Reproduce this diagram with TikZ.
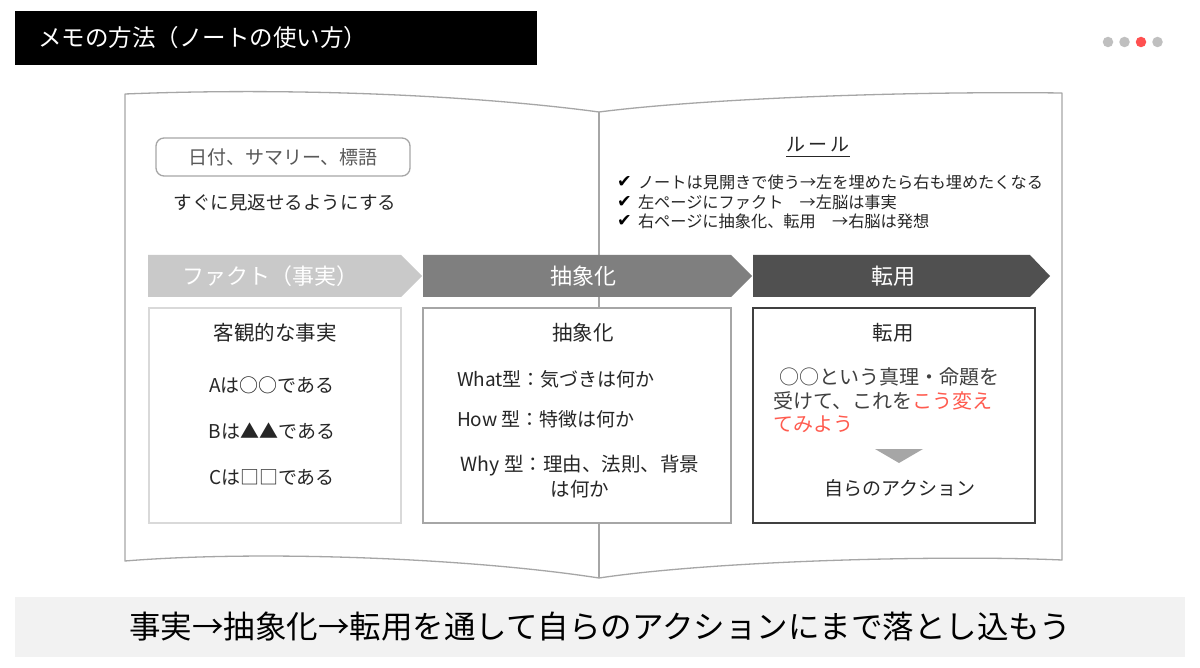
\documentclass[tikz,border=0pt]{standalone}
\usepackage{fontspec}
\setmainfont{Noto Sans CJK JP}
\newfontfamily\dejavu{DejaVu Sans}
\definecolor{linegray}{HTML}{A6A6A6}
\definecolor{chevA}{HTML}{C9C9C9}
\definecolor{chevB}{HTML}{7F7F7F}
\definecolor{chevC}{HTML}{505050}
\definecolor{dotgray}{HTML}{BFBFBF}
\definecolor{dotred}{HTML}{FF5050}
\definecolor{darktext}{HTML}{262626}
\definecolor{midtext}{HTML}{595959}
\definecolor{paratext}{HTML}{404040}
\definecolor{accent}{HTML}{FF5B4F}
\definecolor{barfill}{HTML}{F2F2F2}
\newcommand\fsz[2]{\fontsize{#1}{#2}\selectfont}
\tikzset{
  booklines/.style={draw=linegray, line width=1.3pt},
  chevtext/.style={text=white, font=\fsz{22}{26}},
  boxtitle/.style={text=darktext, font=\fsz{20.5}{25}},
  boxline/.style={text=darktext, font=\fsz{19}{23}},
  checkline/.style={anchor=west, text=darktext, font=\fsz{16.2}{19}},
  checkmark/.style={anchor=west, text=black, font=\dejavu\fsz{17.5}{20}},
  pagedot/.style={circle, minimum size=10.5pt, fill=#1},
}
\begin{document}
\begin{tikzpicture}[x=1pt,y=-1pt, every node/.style={inner sep=0pt, outer sep=0pt}]
\useasboundingbox (0,0) rectangle (1200,668);
\fill[white] (0,0) rectangle (1200,668);

% title bar
\fill[black] (15,11) rectangle (537,65);
\node[anchor=west, text=white, font=\fsz{23.5}{28}] (title) at (38,38) {メモの方法（ノートの使い方）};

% page dots
\node[pagedot=dotgray] (d1) at (1108,42) {};
\node[pagedot=dotgray] (d2) at (1124.5,42) {};
\node[pagedot=dotred] (d3) at (1141,42) {};
\node[pagedot=dotgray] (d4) at (1157.5,42) {};

% open book outline
\draw[booklines, line join=round]
  (125,94) .. controls (300,87) and (480,96) .. (599,112)
  .. controls (700,99) and (900,91) .. (1062,93)
  -- (1062,560)
  .. controls (950,555) and (720,560) .. (599,578)
  .. controls (470,558) and (260,550) .. (125,561)
  -- cycle;
\draw[booklines] (599,112) -- (599,578);

% left page top
\draw[draw=linegray, line width=1.3pt, rounded corners=8pt, fill=white] (156,138) rectangle (410,176);
\node[text=midtext, font=\fsz{19}{23}] (tags) at (283,157) {日付、サマリー、標語};
\node[text=darktext, font=\fsz{18.5}{22}] (lookback) at (285,203) {すぐに見返せるようにする};

% rules
\node[text=darktext, font=\fsz{19}{23}] (rule) at (818,145) {ル\,ー\,ル};
\draw[darktext, line width=1pt] ([yshift=-4pt]rule.south west) -- ([yshift=-4pt]rule.south east);
\node[checkmark] (c1) at (617,182) {✔};
\node[checkline] (r1) at (638,182) {ノートは見開きで使う→左を埋めたら右も埋めたくなる};
\node[checkmark] (c2) at (617,202) {✔};
\node[checkline] (r2) at (638,202) {左ページにファクト　→左脳は事実};
\node[checkmark] (c3) at (617,221) {✔};
\node[checkline] (r3) at (638,221) {右ページに抽象化、転用　→右脳は発想};

% chevrons
\fill[chevA] (148,255) -- (401,255) -- (422,276) -- (401,297) -- (148,297) -- cycle;
\node[chevtext] (fact) at (270,276) {ファクト（事実）};
\fill[chevB] (423,255) -- (731,255) -- (752,276) -- (731,297) -- (423,297) -- cycle;
\node[chevtext] (abst) at (583,276) {抽象化};
\fill[chevC] (753,255) -- (1030,255) -- (1050,276) -- (1030,297) -- (753,297) -- cycle;
\node[chevtext] (apply) at (893,276) {転用};

% box 1
\draw[draw=black!15, line width=1.4pt, fill=white] (149,308) rectangle (401,523);
\node[boxtitle] (b1t) at (275,333) {客観的な事実};
\node[boxline] (b1a) at (272,385) {Aは○○である};
\node[boxline] (b1b) at (272,431) {Bは▲▲である};
\node[boxline] (b1c) at (272,477) {Cは□□である};

% box 2
\draw[draw=linegray, line width=1.4pt, fill=white] (423,308) rectangle (731,523);
\node[boxtitle] (b2t) at (583,333) {抽象化};
\node[boxline, anchor=west] (b2a) at (457,379) {What型：気づきは何か};
\node[boxline, anchor=west] (b2b) at (457,419) {How 型：特徴は何か};
\node[boxline, align=center, font=\fsz{19.5}{25}] (b2c) at (580,477) {Why 型：理由、法則、背景\\は何か};

% box 3
\draw[draw=black!75, line width=1.4pt, fill=white] (753,308) rectangle (1035,523);
\node[boxtitle] (b3t) at (893,333) {転用};
\node[anchor=north west, align=left, text=paratext, font=\fsz{20}{23.5}] (b3p) at (773,368)
  {\hspace{6pt}○○という真理・命題を\\受けて、これを\textcolor{accent}{こう変え}\\\textcolor{accent}{てみよう}};
\fill[linegray] (875,449) -- (923,449) -- (899,463) -- cycle;
\node[boxline] (b3a) at (900,488) {自らのアクション};

% bottom bar
\fill[barfill] (15,597) rectangle (1185,657);
\node[text=black, font=\fsz{31.5}{36}] (summary) at (600,627) {事実→抽象化→転用を通して自らのアクションにまで落とし込もう};
\end{tikzpicture}
\end{document}
